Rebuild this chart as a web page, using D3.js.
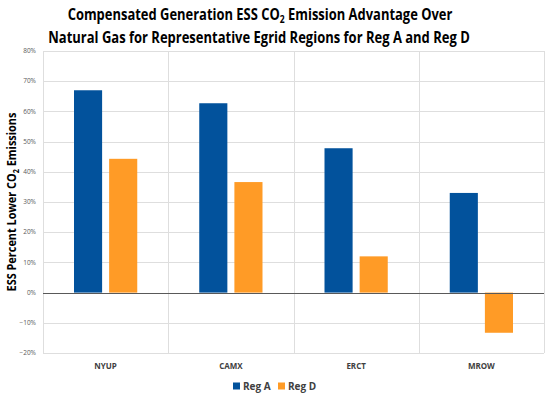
<!DOCTYPE html>
<html>
<head>
<meta charset="utf-8">
<script src="https://cdn.jsdelivr.net/npm/d3@7"></script>
<style>
  body { margin: 0; background: #fff; }
  svg { display: block; font-family: "Open Sans", "Liberation Sans", sans-serif; }
</style>
</head>
<body>
<div id="chart"></div>
<script>
const regions = ["NYUP", "CAMX", "ERCT", "MROW"];
const seriesNames = ["Reg A", "Reg D"];
const regA = [0.67, 0.627, 0.478, 0.33];
const regD = [0.443, 0.366, 0.12, -0.133];
const yTicks = [-0.2, -0.1, 0, 0.1, 0.2, 0.3, 0.4, 0.5, 0.6, 0.7, 0.8];
const colors = ["#02529c", "#ff9b26"];

const width = 550, height = 398;
const margin = { top: 51, right: 6, bottom: 45, left: 43 };
const innerWidth = width - margin.left - margin.right,
  innerHeight = height - margin.top - margin.bottom;

const svg = d3.select("#chart").append("svg")
  .attr("width", width).attr("height", height);

const g = svg.append("g").attr("transform", `translate(${margin.left},${margin.top})`);

const x = d3.scaleBand().domain(regions).range([0, innerWidth]).paddingInner(0).paddingOuter(0);
const xs = d3.scaleBand().domain(seriesNames).range([31, x.bandwidth() - 31]).paddingInner(0.2);
const y = d3.scaleLinear().domain([-0.2, 0.8]).range([innerHeight, 0]);

// squeeze a text horizontally so it spans about the reference width (Calibri is narrow)
function squeeze(sel, base, target) {
  const w = sel.node().getComputedTextLength();
  const k = Math.min(1, target / w);
  sel.attr("transform", `${base} scale(${k},1)`);
}

// horizontal grid
g.selectAll(".hgrid").data(yTicks).join("line")
  .attr("x1", 0).attr("x2", innerWidth)
  .attr("y1", d => Math.round(y(d)) + 0.5).attr("y2", d => Math.round(y(d)) + 0.5)
  .attr("stroke", "#dedede").attr("stroke-width", 1);

// vertical grid at category boundaries
const vx = regions.map(r => x(r)).concat([innerWidth]);
g.selectAll(".vgrid").data(vx).join("line")
  .attr("x1", d => Math.round(d) + 0.5).attr("x2", d => Math.round(d) + 0.5)
  .attr("y1", 0).attr("y2", innerHeight)
  .attr("stroke", "#dedede").attr("stroke-width", 1);

// y tick labels
g.selectAll(".ytick").data(yTicks).join("text")
  .attr("x", -7).attr("y", d => y(d)).attr("dy", "0.35em")
  .attr("text-anchor", "end")
  .attr("font-size", 6.5).attr("fill", "#595959")
  .text(d => d3.format(".0%")(d));

// bars
const rows = regions.map((r, i) => ({ region: r, values: [regA[i], regD[i]] }));
const grp = g.selectAll(".cat").data(rows).join("g")
  .attr("transform", d => `translate(${x(d.region)},0)`);
grp.selectAll("rect").data(d => d.values.map((v, j) => ({ v, s: seriesNames[j], j })))
  .join("rect")
  .attr("x", d => xs(d.s))
  .attr("width", xs.bandwidth())
  .attr("y", d => y(Math.max(0, d.v)))
  .attr("height", d => Math.abs(y(d.v) - y(0)))
  .attr("fill", d => colors[d.j]);

// zero line
g.append("line")
  .attr("x1", 0).attr("x2", innerWidth)
  .attr("y1", Math.round(y(0)) + 0.5).attr("y2", Math.round(y(0)) + 0.5)
  .attr("stroke", "#595959").attr("stroke-width", 1);

// category labels
g.selectAll(".xlab").data(regions).join("text")
  .attr("x", d => x(d) + x.bandwidth() / 2)
  .attr("y", innerHeight + 16)
  .attr("text-anchor", "middle")
  .attr("font-size", 8).attr("font-weight", "bold").attr("fill", "#404040")
  .text(d => d);

// y axis title
const yt = svg.append("text")
  .attr("text-anchor", "middle")
  .attr("font-size", 12).attr("font-weight", "bold").attr("fill", "#000");
yt.append("tspan").text("ESS Percent Lower CO");
yt.append("tspan").attr("font-size", 8).attr("dy", 3).text("2");
yt.append("tspan").attr("dy", -3).text(" Emissions");
squeeze(yt, "translate(16,202) rotate(-90)", 179);

// title
const t1 = svg.append("text")
  .attr("text-anchor", "middle")
  .attr("font-size", 16).attr("font-weight", "bold").attr("fill", "#000");
t1.append("tspan").text("Compensated Generation ESS CO");
t1.append("tspan").attr("font-size", 10.5).attr("dy", 3).text("2");
t1.append("tspan").attr("dy", -3).text(" Emission Advantage Over");
squeeze(t1, "translate(260,20)", 385);
const t2 = svg.append("text")
  .attr("text-anchor", "middle")
  .attr("font-size", 16).attr("font-weight", "bold").attr("fill", "#000")
  .text("Natural Gas for Representative Egrid Regions for Reg A and Reg D");
squeeze(t2, "translate(259,43)", 422);

// legend
const legend = svg.append("g").attr("transform", "translate(233,386)");
const lx = [0, 45];
const li = legend.selectAll("g").data(seriesNames).join("g")
  .attr("transform", (d, i) => `translate(${lx[i]},0)`);
li.append("rect").attr("x", 0).attr("y", -3.5).attr("width", 7).attr("height", 7)
  .attr("fill", (d, i) => colors[i]);
li.append("text").attr("x", 10).attr("y", 0).attr("dy", "0.35em")
  .attr("font-size", 10).attr("font-weight", "bold").attr("fill", "#404040")
  .text(d => d);
</script>
</body>
</html>
